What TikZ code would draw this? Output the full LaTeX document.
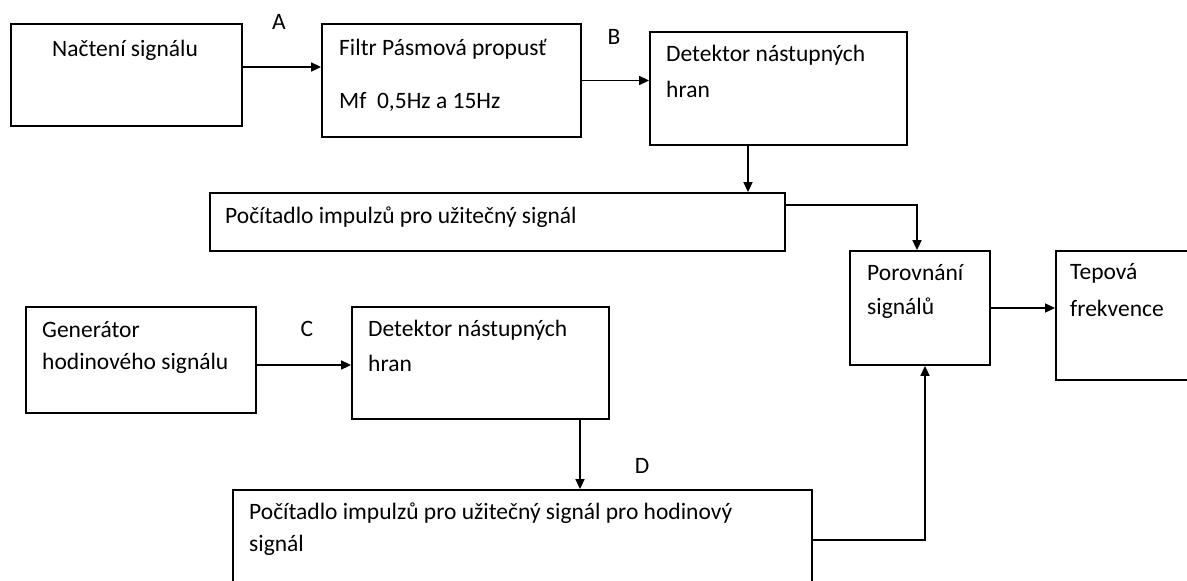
\documentclass[tikz,border=0pt]{standalone}
\usepackage{fontspec}
\setmainfont{Carlito}
\usetikzlibrary{arrows.meta}

\tikzset{
  blok/.style={draw, rectangle, line width=1.8pt, inner sep=0pt},
  popis/.style={anchor=west, inner sep=0pt, font=\fontsize{23.5}{28}\selectfont},
  pismeno/.style={inner sep=0pt, font=\fontsize{23.5}{28}\selectfont},
  sipka/.style={line width=1.6pt, -{Triangle[length=10pt,width=9pt]}},
}

\begin{document}
\begin{tikzpicture}[x=1pt,y=-1pt]
\useasboundingbox (0,0) rectangle (1187,581);
\clip (0,0) rectangle (1187,581);

% horni vetev
\node[blok, minimum width=231, minimum height=102] (nacteni) at (126.5,75) {};
\node[popis] (tnacteni) at (52,50) {Načtení signálu};

\node[blok, minimum width=259, minimum height=113] (filtr) at (451.5,80.5) {};
\node[popis] (tfiltr1) at (339,49) {Filtr Pásmová propusť};
\node[popis] (tfiltr2) at (339,102) {Mf\ \ 0,5Hz a 15Hz};

\node[blok, minimum width=257, minimum height=113] (detektA) at (778.5,88.5) {};
\node[popis] (tdetA1) at (666,55) {Detektor nástupných};
\node[popis] (tdetA2) at (666,89) {hran};

\node[blok, minimum width=575, minimum height=58] (citacA) at (497.5,222) {};
\node[popis] (tcitacA) at (225,217) {Počítadlo impulzů pro užitečný signál};

% porovnani
\node[blok, minimum width=140, minimum height=114] (porovnani) at (920,308) {};
\node[popis] (tpor1) at (867,273) {Porovnání};
\node[popis] (tpor2) at (867,308) {signálů};

\node[blok, minimum width=180, minimum height=129] (tepova) at (1146,315.5) {};
\node[popis] (ttep1) at (1070,273) {Tepová};
\node[popis] (ttep2) at (1070,308) {frekvence};

% dolni vetev
\node[blok, minimum width=230, minimum height=106] (generator) at (141,360) {};
\node[popis] (tgen1) at (42,330) {Generátor};
\node[popis] (tgen2) at (42,363) {hodinového signálu};

\node[blok, minimum width=257, minimum height=112] (detektB) at (480.5,363) {};
\node[popis] (tdetB1) at (368,330) {Detektor nástupných};
\node[popis] (tdetB2) at (368,363) {hran};

\node[blok, minimum width=579, minimum height=110] (citacB) at (522.5,545) {};
\node[popis] (tcitacB1) at (249,513) {Počítadlo impulzů pro užitečný signál pro hodinový};
\node[popis] (tcitacB2) at (249,545) {signál};

% pismena
\node[pismeno] (A) at (279,22) {A};
\node[pismeno] (B) at (614,37) {B};
\node[pismeno] (C) at (307,329) {C};
\node[pismeno] (D) at (642,466) {D};

% sipky
\draw[sipka] ([yshift=8]nacteni.east) -- ([yshift=8]nacteni.east -| filtr.west);
\draw[sipka] (filtr.east) -- (filtr.east -| detektA.west);
\draw[sipka] ([xshift=-30.5]detektA.south) -- ([xshift=-30.5]detektA.south |- citacA.north);
\draw[sipka] ([yshift=17]citacA.east) -| ([xshift=-3]porovnani.north);
\draw[sipka] (porovnani.east) -- (porovnani.east -| tepova.west);
\draw[sipka] ([yshift=-5]generator.east) -- ([yshift=-5]generator.east -| detektB.west);
\draw[sipka] ([xshift=99.5]detektB.south) -- ([xshift=99.5]detektB.south |- citacB.north);
\draw[sipka] ([yshift=5]citacB.east) -| ([xshift=5]porovnani.south);
%\draw[sipka] (porovnani.south) -- (citacB.east);

\end{tikzpicture}
\end{document}
